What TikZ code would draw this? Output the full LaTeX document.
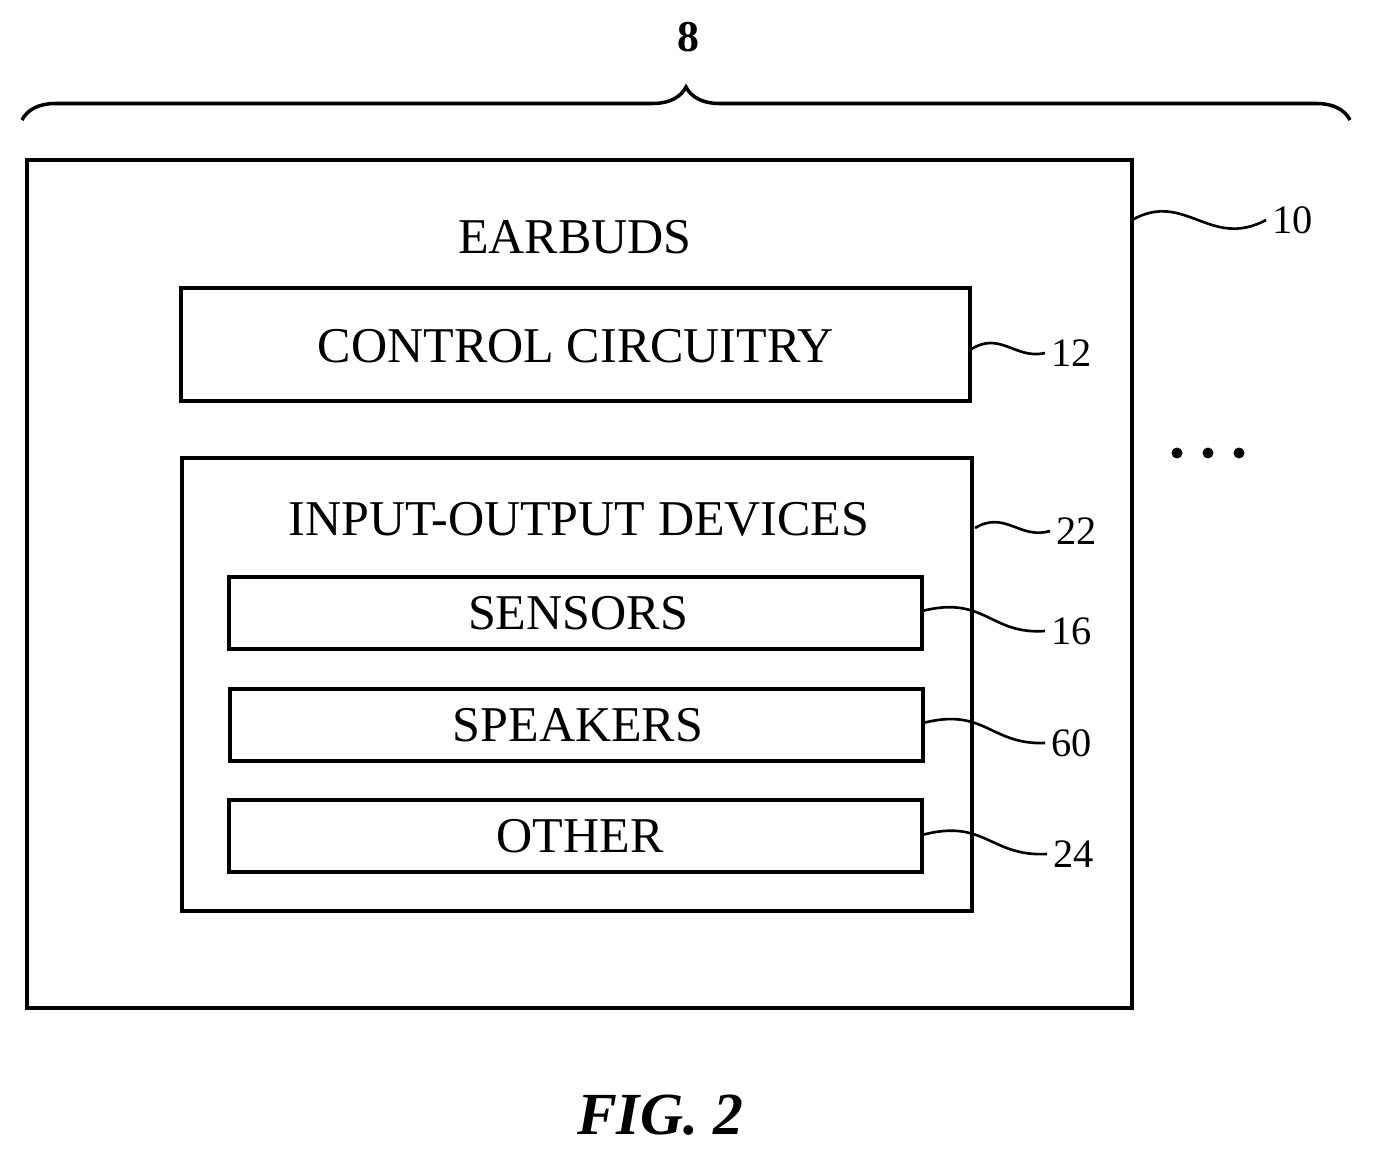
\documentclass[tikz,border=0pt]{standalone}
\usepackage{fontspec}
\setmainfont{Liberation Serif}
\usetikzlibrary{decorations.pathreplacing}
\begin{document}
\begin{tikzpicture}[x=0.02cm, y=-0.02cm,
	box/.style={draw, line width=1.9pt},
	lbl/.style={font=\fontsize{28.5}{30}\selectfont},
	num/.style={font=\fontsize{23}{25}\selectfont},
	lead/.style={line width=1.5pt}]
		\useasboundingbox (0,0) rectangle (1373,1156);
		% boxes
		\draw[box] (27,160) rectangle (1132,1008);
		\draw[box] (181,288) rectangle (970,401);
		\draw[box] (182,458) rectangle (972,911);
		\draw[box] (229,577) rectangle (922,649);
		\draw[box] (230,689) rectangle (923,761);
		\draw[box] (229,800) rectangle (922,872);
		\node[lbl] (earbuds) at (575,237) {EARBUDS};
		\node[lbl] (control) at (576,346) {CONTROL CIRCUITRY};
		\node[lbl] (io) at (579,519) {INPUT-OUTPUT DEVICES};
		\node[lbl] (sensors) at (578,613) {SENSORS};
		\node[lbl] (speakers) at (578,725) {SPEAKERS};
		\node[lbl] (other) at (580,836) {OTHER};
		% brace
		\draw[line width=2pt, decorate, decoration={brace, amplitude=0.66cm}] (22,120) -- (1350,120);
		\node[font=\bfseries\fontsize{25}{27}\selectfont] (n8) at (688,37) {8};
		% dots
		\foreach \x in {1177,1208,1239}
			\fill (\x,453) circle (5.5);
		% reference numerals
		\node[num, anchor=west] (n10) at (1266,220) {10};
		\node[num, anchor=west] (n12) at (1045,353) {12};
		\node[num, anchor=west] (n22) at (1050,531) {22};
		\node[num, anchor=west] (n16) at (1045,631) {16};
		\node[num, anchor=west] (n60) at (1045,743) {60};
		\node[num, anchor=west] (n24) at (1047,854) {24};
		\draw[lead] (1132,220) .. controls (1185,190) and (1210,250) .. (n10.west);
		\draw[lead] (970,350) .. controls (1000,330) and (1015,360) .. (n12.west);
		\draw[lead] (975,528) .. controls (1005,510) and (1020,540) .. (n22.west);
		\draw[lead] (922,611) .. controls (985,595) and (990,635) .. (n16.west);
		\draw[lead] (923,723) .. controls (985,707) and (990,745) .. (n60.west);
		\draw[lead] (922,835) .. controls (985,818) and (990,857) .. (n24.west);
		\node[font=\bfseries\itshape\fontsize{34}{36}\selectfont] (fig) at (660,1115) {FIG. 2};
	\end{tikzpicture}
\end{document}
